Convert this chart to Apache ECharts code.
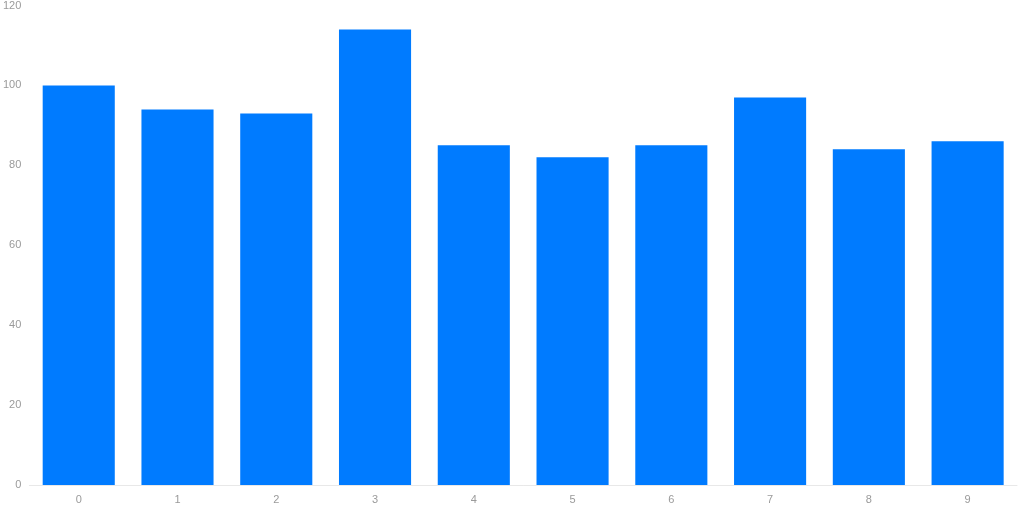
<!DOCTYPE html>
<html>
<head>
<meta charset="utf-8">
<script src="https://cdn.jsdelivr.net/npm/echarts@6/dist/echarts.min.js"></script>
<style>
  html, body { margin: 0; padding: 0; background: #fff; }
  #chart { width: 1024px; height: 512px; }
</style>
</head>
<body>
<div id="chart"></div>
<script>
// 类目与数值
const categories = ['0', '1', '2', '3', '4', '5', '6', '7', '8', '9'];
const values = [100, 94, 93, 114, 85, 82, 85, 97, 84, 86];
const yTicks = { min: 0, max: 120, interval: 20 };

const chart = echarts.init(document.getElementById('chart'));

const option = {
    animation: false,
    grid: { left: 25, right: 7, top: 5, bottom: 27, containLabel: false },
    xAxis: {
        type: 'category',
        data: categories,
        axisLine: { lineStyle: { color: '#e8e8e8', width: 1 } },
        axisTick: { show: false },
        axisLabel: { color: '#9a9a9a', fontSize: 11, margin: 9, fontFamily: 'Liberation Sans' }
    },
    yAxis: {
        type: 'value',
        min: yTicks.min,
        max: yTicks.max,
        interval: yTicks.interval,
        axisLine: { show: false },
        axisTick: { show: false },
        splitLine: { show: false },
        axisLabel: { color: '#9a9a9a', fontSize: 11, margin: 8, fontFamily: 'Liberation Sans' }
    },
    series: [{
        type: 'bar',
        data: values,
        barCategoryGap: '27%',
        itemStyle: { color: '#007bff' }
    }]
};

chart.setOption(option);
</script>
</body>
</html>
